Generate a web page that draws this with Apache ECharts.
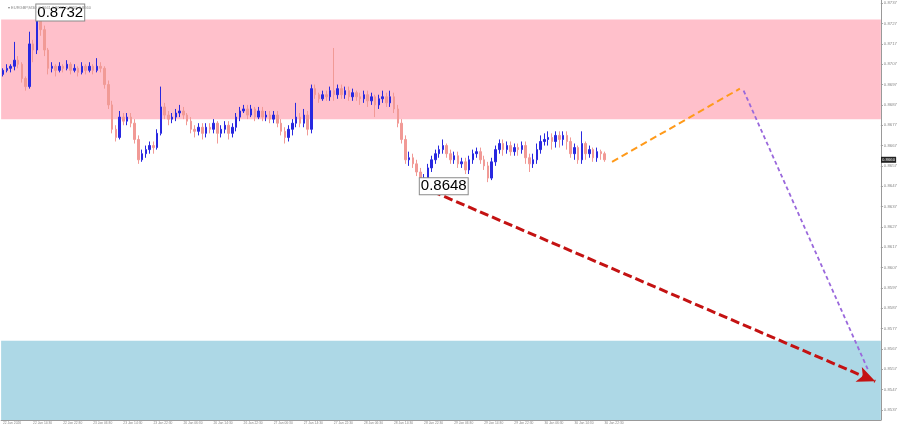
<!DOCTYPE html>
<html lang="en" style="height: 100%">
<head>
    <meta charset="UTF-8">
    <title>EURGBP</title>
    <script type="text/javascript" src="https://cdn.jsdelivr.net/npm/echarts@6/dist/echarts.min.js"></script>
</head>
<body style="height: 100%;margin: 0;background:#fff">

<div id="contar1" style="width: 900px;height: 428px"></div>

<script type="text/javascript">
    // candles, oldest first
    var opens = [
        0.8702,0.8704,0.8705,0.8706,0.8709,0.8707,0.8700,0.8696,0.8717,0.8714,
        0.8731,0.8724,0.8714,0.8705,0.8706,0.8704,0.8706,0.8705,0.8707,0.8704,
        0.8705,0.8703,0.8706,0.8704,0.8706,0.8704,0.8706,0.8705,0.8697,0.8687,
        0.8675,0.8671,0.8681,0.8679,0.8681,0.8678,0.8670,0.8660,0.8663,0.8665,
        0.8667,0.8666,0.8673,0.8686,0.8682,0.8680,0.8681,0.8683,0.8684,0.8682,
        0.8679,0.8675,0.8674,0.8676,0.8673,0.8676,0.8675,0.8678,0.8673,0.8675,
        0.8677,0.8673,0.8676,0.8681,0.8684,0.8685,0.8682,0.8685,0.8681,0.8684,
        0.8681,0.8682,0.8680,0.8682,0.8678,0.8674,0.8671,0.8675,0.8678,0.8681,
        0.8678,0.8682,0.8675,0.8695,0.8692,0.8690,0.8692,0.8691,0.8694,0.8692,
        0.8695,0.8692,0.8694,0.8691,0.8693,0.8691,0.8690,0.8692,0.8689,0.8691,
        0.8687,0.8690,0.8691,0.8688,0.8691,0.8685,0.8678,0.8670,0.8660,0.8661,
        0.8658,0.8654,0.8650,0.8651,0.8656,0.8660,0.8663,0.8665,0.8667,0.8663,
        0.8660,0.8662,0.8658,0.8659,0.8655,0.8660,0.8663,0.8664,0.8660,0.8657,
        0.8651,0.8659,0.8665,0.8668,0.8665,0.8667,0.8664,0.8666,0.8665,0.8667,
        0.8661,0.8658,0.8660,0.8665,0.8669,0.8670,0.8671,0.8669,0.8672,0.8670,
        0.8672,0.8669,0.8663,0.8666,0.8660,0.8668,0.8663,0.8665,0.8661,0.8664,
        0.8663];
    var closes = [
        0.8704,0.8705,0.8706,0.8709,0.8707,0.8700,0.8696,0.8717,0.8714,0.8731,
        0.8724,0.8714,0.8705,0.8706,0.8704,0.8706,0.8705,0.8707,0.8704,0.8705,
        0.8703,0.8706,0.8704,0.8706,0.8704,0.8706,0.8705,0.8697,0.8687,0.8675,
        0.8671,0.8681,0.8679,0.8681,0.8678,0.8670,0.8660,0.8663,0.8665,0.8667,
        0.8666,0.8673,0.8686,0.8682,0.8680,0.8681,0.8683,0.8684,0.8682,0.8679,
        0.8675,0.8674,0.8676,0.8673,0.8676,0.8675,0.8678,0.8673,0.8675,0.8677,
        0.8673,0.8676,0.8681,0.8684,0.8685,0.8682,0.8685,0.8681,0.8684,0.8681,
        0.8682,0.8680,0.8682,0.8678,0.8674,0.8671,0.8675,0.8678,0.8681,0.8678,
        0.8682,0.8675,0.8695,0.8692,0.8690,0.8692,0.8691,0.8694,0.8692,0.8695,
        0.8692,0.8694,0.8691,0.8693,0.8691,0.8690,0.8692,0.8689,0.8691,0.8687,
        0.8690,0.8691,0.8688,0.8691,0.8685,0.8678,0.8670,0.8660,0.8661,0.8658,
        0.8654,0.8650,0.8651,0.8656,0.8660,0.8663,0.8665,0.8667,0.8663,0.8660,
        0.8662,0.8658,0.8659,0.8655,0.8660,0.8663,0.8664,0.8660,0.8657,0.8651,
        0.8659,0.8665,0.8668,0.8665,0.8667,0.8664,0.8666,0.8665,0.8667,0.8661,
        0.8658,0.8660,0.8665,0.8669,0.8670,0.8671,0.8669,0.8672,0.8670,0.8672,
        0.8669,0.8663,0.8666,0.8660,0.8668,0.8663,0.8665,0.8661,0.8664,0.8663,
        0.8660];
    var lows = [
        0.8701,0.8703,0.8703,0.8704,0.8705,0.8698,0.8694,0.8695,0.8708,0.8712,
        0.8721,0.8711,0.8702,0.8703,0.8701,0.8703,0.8703,0.8704,0.8702,0.8703,
        0.8701,0.8702,0.8702,0.8703,0.8702,0.8703,0.8703,0.8695,0.8685,0.8673,
        0.8669,0.8670,0.8677,0.8677,0.8676,0.8668,0.8658,0.8659,0.8661,0.8663,
        0.8663,0.8665,0.8672,0.8680,0.8677,0.8678,0.8679,0.8681,0.8680,0.8677,
        0.8673,0.8671,0.8672,0.8670,0.8671,0.8673,0.8673,0.8668,0.8671,0.8673,
        0.8670,0.8671,0.8674,0.8679,0.8683,0.8680,0.8681,0.8679,0.8680,0.8679,
        0.8679,0.8678,0.8678,0.8676,0.8672,0.8668,0.8669,0.8672,0.8676,0.8676,
        0.8676,0.8672,0.8673,0.8690,0.8688,0.8689,0.8689,0.8689,0.8689,0.8690,
        0.8690,0.8690,0.8689,0.8689,0.8689,0.8687,0.8688,0.8686,0.8687,0.8681,
        0.8685,0.8688,0.8686,0.8686,0.8683,0.8676,0.8668,0.8658,0.8657,0.8656,
        0.8652,0.8648,0.8648,0.8649,0.8654,0.8658,0.8661,0.8663,0.8661,0.8658,
        0.8658,0.8656,0.8656,0.8653,0.8653,0.8658,0.8661,0.8658,0.8655,0.8649,
        0.8650,0.8657,0.8663,0.8662,0.8663,0.8662,0.8662,0.8662,0.8663,0.8658,
        0.8654,0.8656,0.8658,0.8663,0.8667,0.8667,0.8665,0.8666,0.8666,0.8667,
        0.8665,0.8661,0.8660,0.8658,0.8658,0.8660,0.8661,0.8659,0.8659,0.8660,
        0.8659];
    var highs = [
        0.8705,0.8707,0.8707,0.8718,0.8711,0.8708,0.8701,0.8723,0.8719,0.8732,
        0.8732,0.8726,0.8715,0.8708,0.8707,0.8708,0.8707,0.8709,0.8708,0.8707,
        0.8706,0.8708,0.8707,0.8708,0.8707,0.8710,0.8708,0.8706,0.8699,0.8689,
        0.8677,0.8684,0.8683,0.8683,0.8683,0.8680,0.8672,0.8665,0.8667,0.8669,
        0.8669,0.8675,0.8696,0.8688,0.8684,0.8683,0.8685,0.8687,0.8686,0.8683,
        0.8681,0.8677,0.8678,0.8678,0.8678,0.8678,0.8680,0.8679,0.8677,0.8679,
        0.8679,0.8678,0.8683,0.8686,0.8687,0.8687,0.8687,0.8686,0.8686,0.8686,
        0.8684,0.8684,0.8684,0.8684,0.8680,0.8676,0.8677,0.8680,0.8688,0.8683,
        0.8685,0.8684,0.8697,0.8697,0.8693,0.8694,0.8694,0.8696,0.8715,0.8697,
        0.8697,0.8696,0.8696,0.8695,0.8694,0.8693,0.8694,0.8694,0.8693,0.8692,
        0.8692,0.8694,0.8693,0.8694,0.8693,0.8687,0.8680,0.8672,0.8664,0.8663,
        0.8660,0.8656,0.8653,0.8658,0.8662,0.8665,0.8667,0.8670,0.8668,0.8665,
        0.8664,0.8664,0.8661,0.8661,0.8662,0.8665,0.8666,0.8666,0.8662,0.8659,
        0.8661,0.8667,0.8670,0.8670,0.8669,0.8669,0.8668,0.8668,0.8669,0.8669,
        0.8663,0.8663,0.8668,0.8672,0.8673,0.8674,0.8673,0.8674,0.8674,0.8674,
        0.8674,0.8671,0.8668,0.8667,0.8674,0.8669,0.8667,0.8666,0.8666,0.8665,
        0.8664];

    var slotCount = 234;   // candle slots incl. empty space to the right
    var xTickLabels = ['22 Jan 2026','22 Jan 14:30','22 Jan 22:30','23 Jan 06:30','23 Jan 14:30','23 Jan 22:30',
        '26 Jan 06:30','26 Jan 14:30','26 Jan 22:30','27 Jan 06:30','27 Jan 14:30','27 Jan 22:30',
        '28 Jan 06:30','28 Jan 14:30','28 Jan 22:30','29 Jan 06:30','29 Jan 14:30','29 Jan 22:30',
        '30 Jan 06:30','30 Jan 14:30','30 Jan 22:30'];
    var yTicks = [0.8537,0.8547,0.8557,0.8567,0.8577,0.8587,0.8597,0.8607,0.8617,0.8627,0.8637,
        0.8647,0.8657,0.8667,0.8677,0.8687,0.8697,0.8707,0.8717,0.8727,0.8737];

    // zones
    var sellZone = [0.8680, 0.8729];
    var buyZone = [0.8532, 0.8571];

    // forecast path [slot, price]
    var orangePath = [[162, 0.8659], [196, 0.8695]];
    var purplePath = [[197, 0.8694], [230, 0.8557]];
    var redPath = [[111, 0.8647], [232, 0.8551]];

    var cats = [];
    for (var i = 0; i < slotCount; i++) cats.push(String(i));

    var candles = [];
    for (var j = 0; j < closes.length; j++) {
        candles.push([opens[j], closes[j], lows[j], highs[j]]);
    }

    var hiIdx = highs.indexOf(Math.max.apply(null, highs));
    var loIdx = lows.indexOf(Math.min.apply(null, lows));
    var lastClose = closes[closes.length - 1];

    var boxLabel = {
        show: true,
        position: 'right',
        distance: 0,
        fontSize: 15,
        fontFamily: 'Liberation Sans, Arial, sans-serif',
        color: '#000',
        backgroundColor: '#fff',
        borderColor: '#8a8a8a',
        borderWidth: 1,
        padding: [1, 1, 0, 1]
    };

    function seg(path, color, width, dash, arrow) {
        return {
            silent: true,
            symbol: arrow ? ['none', 'arrow'] : ['none', 'none'],
            symbolSize: arrow ? [12, 18] : 0,
            label: {show: false},
            lineStyle: {color: color, width: width, type: dash},
            itemStyle: {color: color},
            data: [[{coord: [String(path[0][0]), path[0][1]]}, {coord: [String(path[1][0]), path[1][1]]}]]
        };
    }

    var chart = echarts.init(document.getElementById('contar1'), null, {renderer: 'canvas'});
    var option = {
        animation: false,
        backgroundColor: '#fff',
        title: {
            text: '\u25BE EURGBP,M30  0.8661 0.8662 0.8659 0.8660',
            left: 3, top: 1,
            textStyle: {fontSize: 4, color: '#888', fontWeight: 'normal', fontFamily: 'Liberation Sans, Arial'}
        },
        grid: {left: 0, right: 18, top: 0, bottom: 8},
        xAxis: {
            type: 'category',
            data: cats,
            boundaryGap: true,
            axisLine: {show: true, lineStyle: {color: '#999', width: 1}},
            axisTick: {show: false},
            splitLine: {show: false},
            axisLabel: {
                interval: 7,
                align: 'left',
                margin: 2,
                fontSize: 3.3,
                color: '#888',
                fontFamily: 'Liberation Sans, Arial',
                formatter: function (v, idx) {
                    var k = idx / 8;
                    return k < xTickLabels.length ? xTickLabels[k] : '';
                }
            }
        },
        yAxis: {
            type: 'value',
            position: 'right',
            min: 0.8532,
            max: 0.87386,
            scale: true,
            splitLine: {show: false},
            axisLine: {show: true, lineStyle: {color: '#999', width: 1}},
            axisTick: {show: true, length: 2, inside: false, customValues: yTicks, lineStyle: {color: '#999'}},
            axisLabel: {
                customValues: yTicks,
                margin: 3,
                fontSize: 4.3,
                color: '#888',
                fontFamily: 'Liberation Sans, Arial',
                formatter: function (v) { return v.toFixed(4); }
            }
        },
        series: [
            {
                name: 'zones',
                type: 'line',
                data: [],
                z: 1,
                silent: true,
                markArea: {
                    silent: true,
                    data: [
                        [{yAxis: sellZone[1], itemStyle: {color: '#ffc0cb'}}, {yAxis: sellZone[0]}],
                        [{yAxis: buyZone[1], itemStyle: {color: '#add8e6'}}, {yAxis: buyZone[0]}]
                    ]
                },
                markLine: {
                    silent: true,
                    symbol: ['none', 'none'],
                    lineStyle: {color: 'rgba(0,0,0,0)', width: 0},
                    label: {
                        show: true,
                        position: 'end',
                        distance: 2,
                        fontSize: 4.3,
                        color: '#fff',
                        backgroundColor: '#222',
                        padding: [1, 1],
                        formatter: function () { return lastClose.toFixed(4); }
                    },
                    data: [[{coord: ['0', lastClose]}, {coord: [String(slotCount - 1), lastClose]}]]
                }
            },
            {
                name: 'EURGBP',
                type: 'candlestick',
                data: candles,
                z: 3,
                barWidth: 2,
                itemStyle: {
                    color: '#2828e0',
                    color0: '#f19a96',
                    borderColor: '#2828e0',
                    borderColor0: '#f19a96',
                    borderWidth: 1
                },
                markPoint: {
                    symbol: 'rect',
                    symbolSize: 1,
                    itemStyle: {color: 'rgba(0,0,0,0)'},
                    silent: true,
                    data: [
                        {coord: [String(hiIdx), highs[hiIdx]], label: Object.assign({}, boxLabel, {formatter: highs[hiIdx].toFixed(4), offset: [-1, -1]})},
                        {coord: [String(loIdx), lows[loIdx]], label: Object.assign({}, boxLabel, {formatter: lows[loIdx].toFixed(4), offset: [-1, 2]})}
                    ]
                }
            },
            {
                name: 'orange', type: 'line', data: [], z: 4,
                markLine: seg(orangePath, '#ff9a1a', 2, [7, 4], false)
            },
            {
                name: 'purple', type: 'line', data: [], z: 4,
                markLine: seg(purplePath, '#9a68dc', 1.8, [4, 3], false)
            },
            {
                name: 'red', type: 'line', data: [], z: 5,
                markLine: seg(redPath, '#c41212', 3, [9, 4], true)
            }
        ]
    };
    chart.setOption(option);
</script>

</body>
</html>
